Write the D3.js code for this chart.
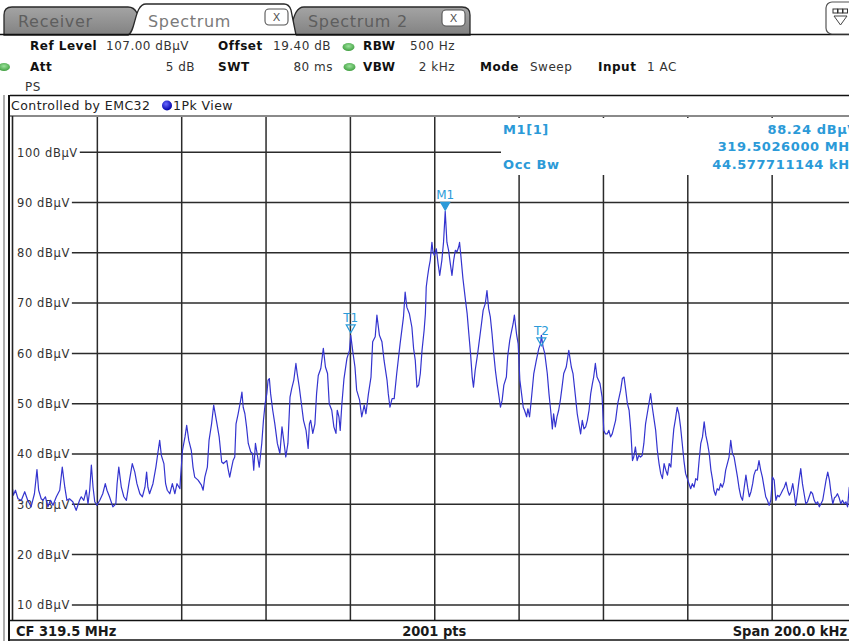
<!DOCTYPE html>
<html><head><meta charset="utf-8">
<script src="https://cdn.jsdelivr.net/npm/d3@7"></script>
<style>body{margin:0;background:#fff;overflow:hidden}svg{display:block}</style>
</head><body>
<script>
// ---- data ----
const traceKHz = [-100.0,-99.8,-99.3,-98.7,-97.9,-97.1,-96.4,-95.6,-94.8,-94.2,-93.8,-93.2,-92.8,-92.2,-91.6,-91.0,-90.4,-89.6,-88.8,-88.2,-87.6,-87.1,-86.5,-85.7,-84.9,-84.1,-83.7,-83.1,-82.5,-82.1,-81.7,-81.3,-80.9,-80.5,-80.0,-79.3,-78.6,-78.0,-77.6,-77.0,-76.2,-75.5,-75.2,-74.8,-74.2,-73.6,-73.0,-72.4,-71.6,-71.0,-70.5,-69.8,-69.2,-68.6,-68.2,-67.9,-67.5,-66.7,-66.0,-65.5,-65.1,-64.7,-64.1,-63.7,-63.3,-62.7,-62.1,-61.5,-61.0,-60.3,-60.2,-59.7,-59.1,-58.7,-58.2,-57.6,-57.2,-56.8,-56.0,-55.2,-54.8,-54.4,-53.8,-53.4,-52.8,-52.3,-51.6,-51.0,
-50.4,-50.0,-49.2,-48.9,-48.5,-48.1,-47.7,-47.3,-47.0,-46.5,-45.9,-45.6,-45.3,-44.9,-44.5,-44.1,-43.5,-43.1,-42.8,-42.4,-42.0,-41.5,-40.9,-40.5,-40.1,-39.7,-39.4,-39.1,-38.8,-38.3,-37.8,-37.2,-36.6,-36.1,-35.6,-35.2,-34.7,-34.2,-33.8,-33.3,-32.8,-32.5,-32.0,-31.5,-31.0,-30.4,-29.9,-29.6,-29.3,-28.8,-28.3,-27.9,-27.5,-26.9,-26.3,-25.8,-25.3,-24.9,-24.3,-23.8,-23.3,-23.0,-22.6,-22.3,-21.9,-21.4,-20.7,-20.1,-19.8,-19.3,-18.8,-18.4,-17.7,-17.2,-16.6,-16.2,-15.6,-15.0,-14.6,-14.0,-13.6,-13.0,-12.4,-11.9,-11.2,-10.9,-10.5,-10.0,-9.5,-8.9,-8.1,-7.3,-6.9,-6.5,-5.9,-5.3,-4.9,-4.5,-4.1,-3.7,-3.3,-2.9,-2.4,
-2.1,-1.9,-1.6,-1.3,-0.95,-0.55,-0.3,0.0,0.5,0.9,1.3,1.8,2.2,2.6,3.0,3.4,3.8,4.2,4.6,5.0,5.4,5.8,6.0,6.3,6.8,7.4,7.8,8.2,8.6,9.0,9.3,9.7,10.3,10.8,11.2,11.6,12.1,12.5,12.9,13.3,13.7,14.1,14.5,14.9,15.3,15.7,16.1,16.5,17.1,17.4,17.9,18.2,18.7,19.0,19.5,19.9,20.3,20.7,21.1,21.4,21.9,22.2,22.6,23.0,23.6,24.2,24.8,25.2,25.4,25.8,26.2,26.8,27.2,27.6,28.0,28.3,28.7,29.1,29.5,29.9,30.3,30.7,31.3,31.9,32.5,32.9,33.5,33.9,34.3,34.7,35.1,35.5,35.9,36.3,36.7,37.1,37.5,37.8,38.2,38.6,39.3,39.8,40.2,40.6,41.0,41.4,41.8,42.2,43.0,43.5,44.2,44.6,45.0,45.4,45.8,46.2,46.6,
47.0,47.3,47.7,48.1,48.5,48.9,49.3,49.7,50.1,50.5,50.9,51.3,51.7,52.1,52.5,52.9,53.3,53.7,54.1,54.5,54.9,55.3,55.7,56.1,56.5,56.8,57.2,57.6,58.0,58.4,58.8,59.2,59.6,60.0,60.4,60.8,61.2,61.6,62.0,62.4,62.8,63.2,63.6,64.0,64.4,64.8,65.2,65.6,66.0,66.3,66.7,67.1,67.5,67.9,68.3,68.7,69.1,69.5,69.9,70.3,70.7,71.1,71.5,71.9,72.3,72.7,73.1,73.5,73.9,74.3,74.7,75.1,75.5,75.8,76.2,76.6,77.0,77.4,77.8,78.2,78.6,79.0,79.4,79.8,80.2,80.6,81.0,81.4,81.8,82.2,82.6,83.0,83.4,83.8,84.2,84.6,85.0,85.3,85.7,86.1,86.5,86.9,87.3,87.7,88.1,88.5,88.9,89.3,89.7,90.1,90.5,90.9,91.3,91.7,92.1,92.5,92.9,93.3,93.7,94.1,94.5,94.9,95.2,95.6,96.0,96.4,96.8,97.2,97.6,98.0,98.4,99.2,100.0];
const traceDbuV = [33.1,31.8,32.8,31.1,30.8,32.5,30.8,29.5,32.1,36.9,32.8,31.1,30.8,31.5,29.5,30.8,29.8,31.5,32.8,37.4,33.4,30.8,31.1,30.5,28.8,30.8,31.5,30.8,32.8,30.1,32.8,37.8,33.4,30.5,29.8,30.8,32.1,34.1,32.8,31.5,29.5,30.1,34.1,37.4,33.4,31.5,30.8,34.1,38.1,36.4,34.1,32.1,31.5,33.4,36.4,33.4,32.1,34.1,37.4,40.4,42.7,39.7,38.1,34.1,32.8,32.1,34.1,32.1,34.1,33.1,34.8,40.7,43.4,45.7,42.7,40.7,37.4,35.4,34.8,33.8,32.8,35.4,37.4,42.7,46.0,49.7,46.4,43.4,
38.4,38.1,38.7,37.1,35.4,37.1,38.7,39.4,46.0,48.0,50.7,52.3,49.3,48.0,45.4,42.1,40.4,40.1,36.8,42.1,40.1,37.4,42.1,46.7,50.0,52.0,54.7,55.0,52.0,48.7,46.0,42.1,40.1,45.4,42.1,39.4,42.1,51.3,53.0,54.7,58.0,56.0,53.3,50.0,46.7,44.7,41.1,46.0,46.7,44.1,46.0,52.0,55.6,57.0,61.0,57.3,56.0,50.0,48.7,45.4,44.1,48.7,47.4,44.7,50.0,55.0,59.0,60.6,63.6,60.3,57.3,52.7,50.7,47.4,49.7,48.0,52.0,55.3,62.3,63.3,67.6,63.6,62.3,58.6,54.7,52.0,49.3,51.0,51.0,56.0,61.9,67.2,72.2,69.2,67.9,65.2,61.0,58.6,53.3,53.7,56.0,60.6,64.6,
67.9,73.2,75.2,76.9,78.5,82.1,80.2,79.5,80.8,77.9,75.5,78.5,82.1,88.24,82.1,80.5,77.9,75.5,78.5,80.5,80.2,81.2,82.1,79.5,74.9,70.6,67.9,63.9,60.0,55.3,53.3,56.6,60.0,63.3,65.9,68.6,69.9,72.5,68.9,67.2,63.9,60.0,56.6,54.0,51.7,49.3,50.7,53.7,55.3,59.3,62.6,63.9,65.9,67.6,63.9,61.9,54.7,52.0,49.3,48.7,47.4,49.0,47.4,50.7,56.0,58.6,61.0,61.9,63.6,61.3,60.0,56.0,52.0,48.7,45.0,48.0,45.4,47.4,48.7,50.7,53.3,56.0,57.3,60.6,57.3,56.0,51.3,48.0,46.0,44.0,46.7,45.0,45.4,46.7,48.7,52.0,54.0,55.3,58.0,55.3,54.0,51.3,44.7,44.0,44.0,44.7,43.4,44.0,46.7,50.0,52.7,55.0,55.3,52.7,50.0,48.7,44.7,
38.7,39.4,41.4,38.7,39.7,39.4,39.7,42.1,46.0,48.0,50.0,52.0,49.3,47.0,44.7,40.7,38.1,36.1,35.1,38.1,36.8,35.8,38.1,37.4,42.1,45.0,47.0,49.3,48.0,45.4,42.1,38.7,36.1,35.1,34.1,33.1,34.1,33.4,35.1,34.8,38.7,42.1,43.4,46.4,43.7,42.1,40.1,36.8,34.8,32.8,31.8,33.1,32.8,34.1,33.4,34.4,36.8,38.1,39.4,42.7,40.1,39.4,37.4,35.4,33.1,31.5,30.8,33.4,35.8,33.4,31.5,32.5,34.1,35.8,36.8,36.8,38.7,36.8,35.4,33.4,31.5,30.8,29.8,30.8,35.4,34.8,30.8,31.8,31.5,32.1,32.8,33.4,34.4,32.8,31.8,32.5,34.1,32.5,29.8,32.1,34.8,37.1,34.1,32.1,30.1,30.5,31.5,32.5,32.1,30.8,30.1,30.5,29.5,30.1,30.8,32.8,34.8,36.4,34.8,32.1,30.1,31.3,31.5,32.1,31.3,30.1,30.8,30.1,30.5,29.5,33.4,31.5,30.8];

const yTickValues = [10,20,30,40,50,60,70,80,90,100];
const yTickUnit = "dBµV";
const xDivisions = [-80,-60,-40,-20,0,20,40,60,80];

const markerNames  = ["M1","T1","T2"];
const markerKHz    = [2.6,-19.8,25.4];
const markerLevels = [88.24,63.9,61.3];
const markerFilled = [true,false,false];

const tabNames = ["Receiver","Spectrum","Spectrum 2"];

const markerInfoLeft  = ["M1[1]","","Occ Bw"];
const markerInfoRight = ["88.24 dBµV","319.5026000 MHz","44.577711144 kHz"];

const footerTexts = ["CF 319.5 MHz","2001 pts","Span 200.0 kHz"];

// ---- drawing ----
const W = 849, H = 641;
const svg = d3.select("body").append("svg").attr("width", W).attr("height", H)
  .style("font-family", "'DejaVu Sans', Verdana, sans-serif");

const defs = svg.append("defs");
const g1 = defs.append("linearGradient").attr("id","tabGray").attr("x1",0).attr("y1",0).attr("x2",0).attr("y2",1);
g1.append("stop").attr("offset","0%").attr("stop-color","#a4a4a4");
g1.append("stop").attr("offset","100%").attr("stop-color","#828282");
const g2 = defs.append("radialGradient").attr("id","greenDot").attr("cx","50%").attr("cy","40%").attr("r","60%");
g2.append("stop").attr("offset","0%").attr("stop-color","#9be39b");
g2.append("stop").attr("offset","100%").attr("stop-color","#3f9e3f");
const g3 = defs.append("radialGradient").attr("id","blueDot").attr("cx","40%").attr("cy","35%").attr("r","65%");
g3.append("stop").attr("offset","0%").attr("stop-color","#6a6aff");
g3.append("stop").attr("offset","100%").attr("stop-color","#0000a8");

// tabs
const tabs = svg.append("g");
// Receiver tab
tabs.append("path").attr("d","M4,35 L4,15 Q4,7 12,7 L128,7 Q134,7 137,13 L146,35 Z")
  .attr("fill","url(#tabGray)").attr("stroke","#2a2a2a").attr("stroke-width",1.3);
// Spectrum 2 tab
tabs.append("path").attr("d","M287,35 C293,30 292,7 304,7 L462,7 Q470,7 470,15 L470,35 Z")
  .attr("fill","url(#tabGray)").attr("stroke","#2a2a2a").attr("stroke-width",1.3);
// line under tabs
svg.append("line").attr("x1",0).attr("x2",W).attr("y1",34.5).attr("y2",34.5).attr("stroke","#111").attr("stroke-width",1.6);
// active Spectrum tab
tabs.append("path").attr("d","M128,36 C136,32 134,4 146,4 L284,4 Q289,4 291,10 L296,36 Z")
  .attr("fill","#fff").attr("stroke","none");
tabs.append("path").attr("d","M128,35 C136,32 134,4 146,4 L284,4 Q289,4 291,10 L296,35")
  .attr("fill","none").attr("stroke","#2a2a2a").attr("stroke-width",1.3);

const tabText = [
  {t:tabNames[0], x:18, c:"#5e5e5e"},
  {t:tabNames[1], x:148, c:"#7a7a7a"},
  {t:tabNames[2], x:308, c:"#5e5e5e"}
];
tabs.selectAll("text.tab").data(tabText).join("text").attr("class","tab")
  .attr("x",d=>d.x).attr("y",27).attr("fill",d=>d.c)
  .style("font-size","16px").style("letter-spacing","0.7px").text(d=>d.t);

// close boxes
[[265,9],[442,10]].forEach(([bx,by])=>{
  tabs.append("rect").attr("x",bx).attr("y",by).attr("width",23).attr("height",16).attr("rx",4)
    .attr("fill","#fff").attr("stroke","#555").attr("stroke-width",1.1);
  tabs.append("text").attr("x",bx+11.5).attr("y",by+12).attr("text-anchor","middle")
    .attr("fill","#555").style("font-size","11px").text("X");
});

// right-side icon
svg.append("rect").attr("x",826).attr("y",2).attr("width",30).attr("height",32).attr("rx",6)
  .attr("fill","#fff").attr("stroke","#555").attr("stroke-width",1.2);
[833,838,843].forEach(ix=>{
  svg.append("rect").attr("x",ix).attr("y",9).attr("width",4.5).attr("height",4).attr("fill","#fff").attr("stroke","#333").attr("stroke-width",1);
});
svg.append("path").attr("d","M834,16 L847,16 L840.5,25 Z").attr("fill","#fff").attr("stroke","#444").attr("stroke-width",1);

// header
const hdr = svg.append("g").style("font-size","12px").style("letter-spacing","0.5px");
const bold = [
  ["Ref Level",30,50],["Offset",218,50],["RBW",363,50],
  ["Att",30,71],["SWT",218,71],["VBW",363,71],["Mode",480,71],["Input",598,71]
];
hdr.selectAll("text.b").data(bold).join("text").attr("class","b")
  .attr("x",d=>d[1]).attr("y",d=>d[2]).attr("fill","#111").style("font-weight","bold").text(d=>d[0]);
const vals = [
  ["107.00 dBµV",106,50,"start"],["19.40 dB",273,50,"start"],["500 Hz",410,50,"start"],
  ["5 dB",195,71,"end"],["80 ms",333,71,"end"],["2 kHz",455,71,"end"],["Sweep",530,71,"start"],["1 AC",647,71,"start"],
  ["PS",25,91,"start"]
];
hdr.selectAll("text.v").data(vals).join("text").attr("class","v")
  .attr("x",d=>d[1]).attr("y",d=>d[2]).attr("text-anchor",d=>d[3]).attr("fill","#333").text(d=>d[0]);
[[348.5,47],[349.5,67],[4,67]].forEach(([cx,cy])=>{
  svg.append("ellipse").attr("cx",cx).attr("cy",cy).attr("rx",6).attr("ry",4).attr("fill","url(#greenDot)");
});

// frame lines
svg.append("line").attr("x1",10).attr("x2",W).attr("y1",95.5).attr("y2",95.5).attr("stroke","#111").attr("stroke-width",1.6);
svg.append("line").attr("x1",4).attr("x2",4).attr("y1",95).attr("y2",H).attr("stroke","#777").attr("stroke-width",1.2);
svg.append("line").attr("x1",9).attr("x2",9).attr("y1",95).attr("y2",H).attr("stroke","#111").attr("stroke-width",2);

// controlled by bar
svg.append("text").attr("x",11).attr("y",110).attr("fill","#222")
  .style("font-size","12.5px").style("letter-spacing","0.45px").text("Controlled by EMC32");
svg.append("circle").attr("cx",167).attr("cy",105.5).attr("r",5).attr("fill","url(#blueDot)");
svg.append("text").attr("x",173).attr("y",110).attr("fill","#222")
  .style("font-size","12.5px").style("letter-spacing","0.45px").text("1Pk View");

// scales
const x = d3.scaleLinear().domain([-100,100]).range([12.5,856]);
const y = d3.scaleLinear().domain([7,107]).range([620,117]);

const plot = svg.append("g");
defs.append("clipPath").attr("id","clip").append("rect")
  .attr("x",x(-100)).attr("y",y(107)).attr("width",x(100)-x(-100)).attr("height",y(7)-y(107));

// vertical grid via axis
const xGrid = plot.append("g").attr("transform",`translate(0,${y(107)})`)
  .call(d3.axisBottom(x).tickValues(xDivisions).tickSize(y(7)-y(107)).tickFormat(""));
xGrid.select(".domain").remove();
xGrid.selectAll(".tick line").attr("stroke","#2b2b2b").attr("stroke-width",1.5);

// y labels and horizontal grid
const yl = plot.append("g");
yTickValues.forEach(v=>{
  const t = yl.append("text").attr("x",17).attr("y",y(v)+4.3).attr("fill","#333")
    .style("font-size","11.5px").style("letter-spacing","0.6px").text(`${v} ${yTickUnit}`);
  const w = t.node().getComputedTextLength();
  yl.append("line").attr("x1",17+w+2).attr("x2",x(100)).attr("y1",y(v)).attr("y2",y(v))
    .attr("stroke","#2b2b2b").attr("stroke-width",1.5);
});

// marker info box (covers grid)
svg.append("rect").attr("x",501).attr("y",y(107)+1).attr("width",360).attr("height",57).attr("fill","#fff");
const mi = svg.append("g").style("font-size","13px").style("font-weight","bold").style("letter-spacing","0.6px").attr("fill","#2b9ad8");
const rowsY = [134,151,169];
markerInfoLeft.forEach((t,i)=>{ if(t) mi.append("text").attr("x",503).attr("y",rowsY[i]).text(t); });
markerInfoRight.forEach((t,i)=>{ mi.append("text").attr("x",858).attr("y",rowsY[i]).attr("text-anchor","end").text(t); });

// plot frame
svg.append("line").attr("x1",10).attr("x2",W).attr("y1",116).attr("y2",116).attr("stroke","#8a8a8a").attr("stroke-width",2);
svg.append("line").attr("x1",12.5).attr("x2",12.5).attr("y1",116).attr("y2",620).attr("stroke","#222").attr("stroke-width",1.6);

// trace
const pts = traceKHz.map((f,i)=>[f,traceDbuV[i]]);
plot.append("path").datum(pts).attr("clip-path","url(#clip)")
  .attr("fill","none").attr("stroke","#3434cf").attr("stroke-width",1.2).attr("stroke-linejoin","round")
  .attr("d", d3.line().x(d=>x(d[0])).y(d=>y(d[1])));

// markers
const mk = svg.append("g");
markerNames.forEach((n,i)=>{
  const mx = x(markerKHz[i]), my = y(markerLevels[i]);
  mk.append("path").attr("d",`M${mx-4.5},${my-9} L${mx+4.5},${my-9} L${mx},${my-1} Z`)
    .attr("fill", markerFilled[i] ? "#2b9ad8" : "none").attr("stroke","#2b9ad8").attr("stroke-width",1.2);
  mk.append("text").attr("x",mx).attr("y",my-12).attr("text-anchor","middle").attr("fill","#2b9ad8")
    .style("font-size","12px").text(n);
});

// footer
svg.append("line").attr("x1",9).attr("x2",W).attr("y1",620.5).attr("y2",620.5).attr("stroke","#111").attr("stroke-width",1.6);
svg.append("line").attr("x1",9).attr("x2",W).attr("y1",640).attr("y2",640).attr("stroke","#111").attr("stroke-width",1.6);
const ft = svg.append("g").style("font-family","'Liberation Sans Narrow','DejaVu Sans Condensed',sans-serif")
  .style("font-size","14.5px").style("font-weight","bold").attr("fill","#1a1a1a");
ft.append("text").attr("x",16).attr("y",636).text(footerTexts[0]);
ft.append("text").attr("x",x(0)).attr("y",636).attr("text-anchor","middle").text(footerTexts[1]);
ft.append("text").attr("x",847).attr("y",636).attr("text-anchor","end").text(footerTexts[2]);
</script>
</body></html>
